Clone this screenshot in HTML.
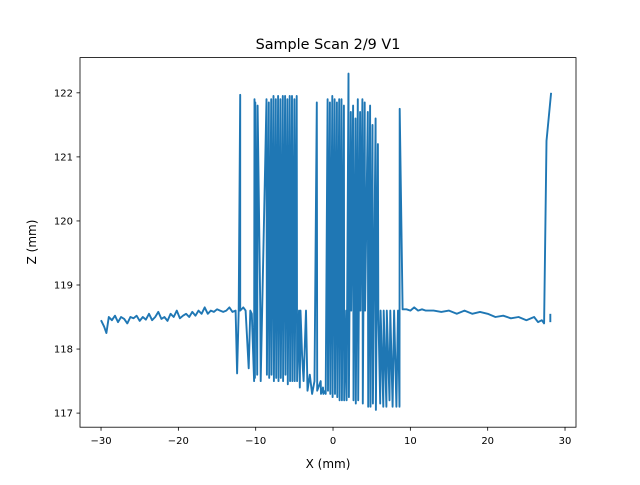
<!DOCTYPE html>
<html><head><meta charset="utf-8"><style>
body{margin:0;background:#fff}
svg text{font-family:"DejaVu Sans","Liberation Sans",sans-serif;fill:#000}
</style></head><body>
<svg id="chart" width="640" height="480">
<rect x="0" y="0" width="640" height="480" fill="#fff"/>
<text x="328" y="49" font-size="14.4" text-anchor="middle">Sample Scan 2/9 V1</text>
<g id="plot"></g>
<text x="328" y="468" font-size="12" text-anchor="middle">X (mm)</text>
<text x="36" y="242" font-size="12" text-anchor="middle" transform="rotate(-90 36 242)">Z (mm)</text>
</svg>
<script>
const xTicks=[-30,-20,-10,0,10,20,30];
const yTicks=[117,118,119,120,121,122];
const leftX=[-30,-29.6,-29.3,-29,-28.6,-28.2,-27.8,-27.4,-27,-26.6,-26.2,-25.8,-25.4,-25,-24.6,-24.2,-23.8,-23.4,-23,-22.6,-22.2,-21.8,-21.4,-21,-20.6,-20.2,-19.8,-19.4,-19,-18.6,-18.2,-17.8,-17.4,-17,-16.6,-16.2,-15.8,-15.4,-15,-14.6,-14.2,-13.8,-13.4,-13];
const leftZ=[118.45,118.35,118.25,118.5,118.45,118.52,118.42,118.5,118.47,118.4,118.5,118.48,118.52,118.44,118.5,118.46,118.55,118.45,118.5,118.58,118.47,118.5,118.44,118.55,118.5,118.6,118.48,118.52,118.55,118.5,118.58,118.52,118.6,118.55,118.65,118.55,118.6,118.58,118.62,118.6,118.58,118.6,118.65,118.58];
const midX=[-12.6,-12.4,-12.2,-12,-12,-11.6,-11.3,-10.9,-10.7,-10.5,
-10.2,-10.15,-10.1,-10.05,-9.8,-9.75,-9.4,-9.35,-8.6,-8.55,
-8.3,-8.25,-8,-7.95,-7.7,-7.65,-7.4,-7.35,-7.1,-7.05,
-6.8,-6.75,-6.5,-6.45,-6.2,-6.15,-5.9,-5.85,-5.6,-5.55,
-5.3,-5.25,-5,-4.95,-4.7,-4.65,-4.4,-4.3,-4.2,-4,
-3.8,-3.5,-3.3,-3,-2.7,-2.4,-2.1,-2.05,-1.6,-1.55,
-1.3,-1.25,-1,-0.95,-0.7,-0.65,-0.4,-0.35,-0.1,-0.05,
0.2,0.25,0.5,0.55,0.8,0.85,1.1,1.15,1.4,1.45,
1.7,1.75,2,2.05,2.3,2.35,2.6,2.65,2.9,2.95,
3.2,3.25,3.5,3.55,3.8,3.85,4.1,4.15,4.5,4.55,
4.8,4.85,5.1,5.15,5.5,5.55,5.8,5.85,6.1,6.15,
6.5,6.55,6.9,6.95,7.3,7.4,7.7,7.9,8.2,8.4,
8.6,8.62,9];
const midZ=[118.6,117.62,118.6,121.97,118.6,118.65,118.6,117.7,118.6,118.55,
117.5,121.9,117.55,121.85,117.6,121.8,118.6,117.5,121.9,117.6,
121.85,117.55,121.9,117.6,121.95,117.5,121.9,117.55,121.95,117.5,
121.9,117.55,121.95,117.5,121.95,117.6,121.9,117.45,121.95,117.5,
121.95,117.5,121.9,117.5,121.95,117.5,118.6,117.4,118.6,117.9,
117.5,118.6,117.35,117.6,117.3,117.5,121.85,117.35,117.5,117.3,
117.4,117.3,117.35,117.3,121.9,117.35,121.85,117.3,121.95,117.25,
121.9,117.3,121.85,117.25,121.9,117.2,121.9,117.2,121.8,117.2,
118.6,117.2,122.3,117.25,121.7,118.6,121.8,117.2,121.6,117.15,
121.9,117.2,121.7,118.6,121.9,117.15,121.85,118.6,121.7,117.1,
121.8,117.1,121.5,117.15,121.6,117.05,121.2,118.6,117.15,118.6,
117.1,118.6,117.1,118.6,117.2,118.6,117.1,118.6,117.1,118.6,
117.1,121.75,118.62];
const rightX=[9.5,10,10.5,11,11.5,12,13,14,15,16,17,18,19,20,21,22,23,24,25,26,26.5,27,27.3,27.6,28.2];
const rightZ=[118.62,118.6,118.65,118.6,118.62,118.6,118.6,118.58,118.6,118.55,118.6,118.55,118.58,118.55,118.5,118.52,118.48,118.5,118.45,118.5,118.42,118.45,118.4,121.25,122.0];
const endX=[28.1,28.1];
const endZ=[118.42,118.55];

const L=80,R=576,T=57.6,B=427.2;
const xMin=-32.72,xMax=31.42,yMin=116.78,yMax=122.55;
const sx=v=>L+(v-xMin)/(xMax-xMin)*(R-L);
const sy=v=>B-(v-yMin)/(yMax-yMin)*(B-T);
const NS='http://www.w3.org/2000/svg';
const svg=document.getElementById('chart');
const plot=document.getElementById('plot');
function mk(t,a,p){const e=document.createElementNS(NS,t);for(const k in a)e.setAttribute(k,a[k]);(p||svg).appendChild(e);return e;}

const xs=[...leftX,...midX,...rightX], zs=[...leftZ,...midZ,...rightZ];
const line=mk('polyline',{points:xs.map((x,i)=>sx(x).toFixed(1)+','+sy(zs[i]).toFixed(1)).join(' '),fill:'none',stroke:'#1f77b4','stroke-width':1.9,'stroke-linejoin':'round'},plot);


const seg=mk('polyline',{points:endX.map((x,i)=>sx(x)+','+sy(endZ[i])).join(' '),fill:'none',stroke:'#1f77b4','stroke-width':1.9},plot);



const frame=mk('rect',{x:L,y:T,width:R-L,height:B-T,fill:'none',stroke:'#000','stroke-width':0.8});


xTicks.forEach(v=>{const x=sx(v);
 const t=mk('line',{x1:x,x2:x,y1:B,y2:B+3.5,stroke:'#000','stroke-width':0.8});
 
 
 const l=mk('text',{x:x,y:B+17,'font-size':10,'text-anchor':'middle'});l.textContent=v<0?'\u2212'+(-v):v;
 
 });
yTicks.forEach(v=>{const y=sy(v);
 const t=mk('line',{x1:L-3.5,x2:L,y1:y,y2:y,stroke:'#000','stroke-width':0.8});
 
 
 const l=mk('text',{x:L-7,y:y+3.5,'font-size':10,'text-anchor':'end'});l.textContent=v;
 
 });
</script>
</body></html>
